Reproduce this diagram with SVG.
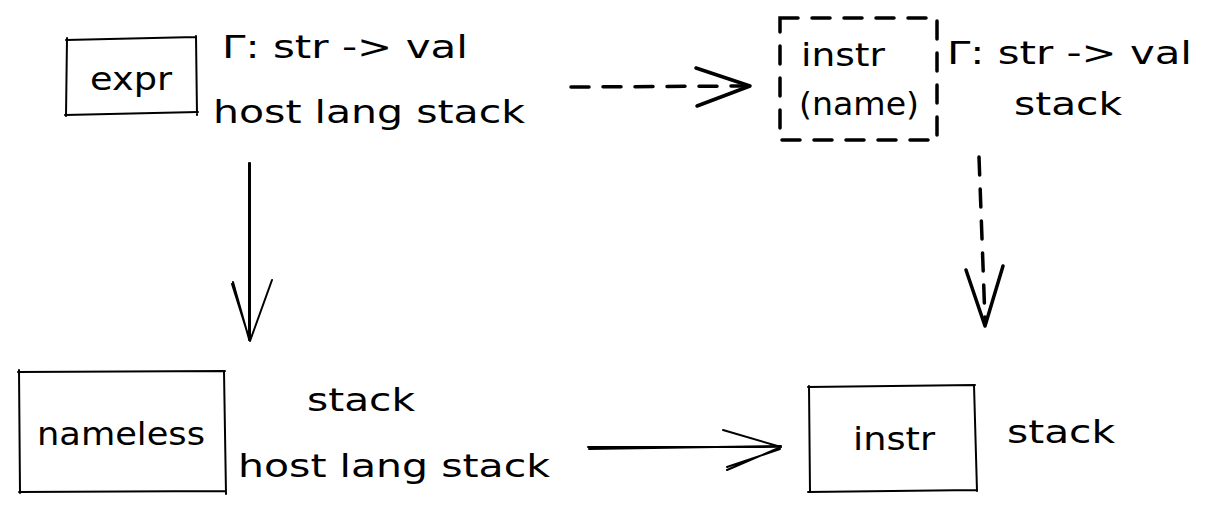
<svg xmlns="http://www.w3.org/2000/svg" width="1218" height="513" viewBox="0 0 1218 513">
<style>
text{font-family:"DejaVu Sans","Liberation Sans",sans-serif;font-size:32px;fill:#000}
.s{fill:none;stroke:#000;stroke-width:2;stroke-linecap:round;stroke-linejoin:round}
.d{fill:none;stroke:#000;stroke-width:3.5;stroke-linecap:round;stroke-dasharray:18 14}
.h{fill:none;stroke:#000;stroke-width:3.5;stroke-linecap:round;stroke-linejoin:round}
</style>
<rect width="1218" height="513" fill="#fff"/>
<g id="expr">
<path class="s" d="M66 40 L196 37 M67 38 L66 116 M196 36 L197 115 M65 115 L198 112"/>
<text x="90" y="90" textLength="82" lengthAdjust="spacingAndGlyphs">expr</text>
</g>
<g id="expr-labels">
<text x="222" y="58" textLength="246" lengthAdjust="spacingAndGlyphs">Γ: str -&gt; val</text>
<text x="213" y="123" textLength="312" lengthAdjust="spacingAndGlyphs">host lang stack</text>
</g>
<g id="instr-name">
<path class="d" d="M780 18 L937 18 L937 140 L780 140 Z"/>
<text x="801" y="66" textLength="84" lengthAdjust="spacingAndGlyphs">instr</text>
<text x="799" y="115" textLength="120" lengthAdjust="spacingAndGlyphs">(name)</text>
</g>
<g id="instr-name-labels">
<text x="947" y="64" textLength="245" lengthAdjust="spacingAndGlyphs">Γ: str -&gt; val</text>
<text x="1014" y="115" textLength="108" lengthAdjust="spacingAndGlyphs">stack</text>
</g>
<g id="nameless">
<path class="s" d="M18 372 L225 371 M19 370 L20 493 M224 371 L226 494 M19 492 L226 491"/>
<text x="37" y="445" textLength="168" lengthAdjust="spacingAndGlyphs">nameless</text>
</g>
<g id="nameless-labels">
<text x="307" y="411" textLength="108" lengthAdjust="spacingAndGlyphs">stack</text>
<text x="238" y="477" textLength="312" lengthAdjust="spacingAndGlyphs">host lang stack</text>
</g>
<g id="instr">
<path class="s" d="M808 387 L975 385 M809 386 L810 492 M974 385 L977 491 M808 492 L976 490"/>
<text x="853" y="450" textLength="82" lengthAdjust="spacingAndGlyphs">instr</text>
</g>
<g id="instr-labels">
<text x="1007" y="443" textLength="108" lengthAdjust="spacingAndGlyphs">stack</text>
</g>
<g id="connectors">
<path class="d" d="M571 87 L748 86"/>
<path class="h" d="M696 68 L750 86 L697 106"/>
<path class="d" d="M979 157 L985 320"/>
<path class="h" d="M966 270 L985 326 L1003 266"/>
<path class="s" d="M249 163 L249 340 M250 163 L250 338"/>
<path class="s" d="M232 284 L250 341 L272 280 M233 282 L249 339"/>
<path class="s" d="M588 447 L780 447 M589 449 L781 446"/>
<path class="s" d="M723 430 L781 447 L727 470 M727 467 L780 449"/>
</g>
</svg>
